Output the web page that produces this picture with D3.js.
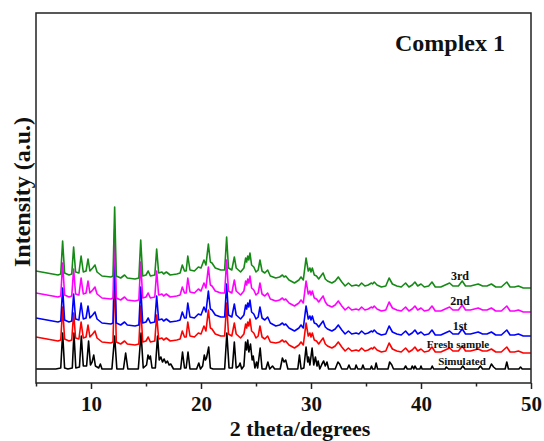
<!DOCTYPE html>
<html><head><meta charset="utf-8">
<script src="https://cdn.jsdelivr.net/npm/d3@7"></script>
<style>body{margin:0;background:#fff}svg{display:block}</style>
</head><body>
<svg id="chart" width="544" height="441"></svg>
<script>
// ---- data (2theta in degrees, intensity in arbitrary units) ----
const xTicks = [10, 20, 30, 40, 50];
const xMinorTicks = [5, 15, 25, 35, 45];
const seriesNames = ["Simulated", "Fresh sample", "1st", "2nd", "3rd"];
const seriesColors = ["#000000", "#ff0000", "#0000ff", "#ff00ff", "#168a16"];

const expTheta = [
 5.0, 6.0, 7.0, 7.25, 7.42, 7.6, 8.0, 8.25, 8.42, 8.6,
 8.9, 9.1, 9.3, 9.55, 9.73, 9.9, 10.15, 10.36, 10.55, 11.0,
 11.8, 12.0, 12.15, 12.3, 12.7, 13.05, 13.3, 14.0, 14.35, 14.52,
 14.7, 15.0, 15.2, 15.4, 15.8, 15.97, 16.15, 16.45, 16.6, 16.85,
 17.2, 17.8, 18.1, 18.3, 18.5, 18.65, 18.8, 19.0, 19.4, 19.76,
 20.0, 20.27, 20.45, 20.67, 20.85, 21.0, 21.3, 21.8, 22.15, 22.33,
 22.5, 22.8, 23.03, 23.2, 23.6, 23.9, 24.06, 24.15, 24.25, 24.35,
 24.45, 24.6, 24.8, 25.0, 25.2, 25.36, 25.55, 25.8, 26.06, 26.3,
 26.8, 27.15, 27.4, 27.55, 27.7, 28.0, 28.5, 28.9, 29.09, 29.3,
 29.55, 29.75, 29.9, 30.0, 30.12, 30.3, 30.5, 30.7, 31.1, 31.3,
 31.5, 31.9, 32.2, 32.48, 32.8, 33.1, 33.4, 33.7, 34.1, 34.35,
 34.6, 34.9, 35.2, 35.5, 35.6, 35.75, 36.0, 36.4, 36.8, 37.1,
 37.4, 37.8, 38.2, 38.6, 38.9, 39.2, 39.45, 39.7, 40.0, 40.3,
 40.7, 41.0, 41.3, 41.8, 42.2, 42.6, 42.9, 43.4, 43.75, 44.05,
 44.5, 45.2, 45.6, 46.0, 46.4, 46.8, 47.3, 47.8, 48.1, 48.5,
 48.85, 49.3, 50.0];

const third = [
 112, 110, 108, 109, 142, 110, 108, 109, 136, 111,
 110, 127, 111, 112, 124, 112, 115, 118, 111, 107,
 106, 107, 176, 107, 105, 108, 105, 104, 105, 143,
 107, 108, 112, 107, 108, 134, 110, 111, 109, 111,
 108, 109, 110, 118, 112, 112, 127, 113, 112, 116,
 115, 123, 118, 139, 121, 120, 115, 113, 113, 146,
 115, 113, 126, 115, 111, 115, 125, 121, 127, 123,
 130, 118, 116, 111, 113, 123, 112, 110, 113, 107,
 105, 106, 108, 106, 107, 103, 100, 103, 106, 103,
 125, 112, 115, 111, 115, 108, 107, 104, 110, 104,
 102, 100, 102, 106, 101, 97, 100, 97, 98, 97,
 100, 97, 98, 100, 99, 101, 98, 96, 97, 105,
 99, 97, 96, 100, 96, 98, 101, 97, 99, 96,
 97, 101, 96, 96, 98, 100, 97, 97, 102, 97,
 97, 99, 97, 97, 99, 96, 96, 101, 96, 96,
 97, 95, 95];

const second = [
 90, 88, 86, 87, 120, 88, 86, 87, 114, 89,
 88, 105, 89, 90, 102, 90, 93, 96, 89, 85,
 84, 85, 154, 85, 83, 86, 83, 82, 83, 121,
 85, 86, 90, 85, 86, 112, 88, 89, 87, 89,
 86, 87, 88, 96, 90, 90, 105, 91, 90, 94,
 92, 100, 95, 116, 98, 97, 92, 90, 90, 123,
 92, 90, 103, 92, 88, 92, 102, 98, 104, 100,
 107, 95, 93, 88, 90, 100, 89, 87, 90, 84,
 82, 83, 85, 83, 84, 80, 77, 80, 83, 80,
 102, 89, 92, 88, 92, 85, 84, 81, 87, 81,
 78, 76, 78, 82, 77, 73, 76, 73, 74, 73,
 76, 73, 74, 76, 75, 77, 74, 72, 73, 81,
 75, 73, 72, 76, 72, 74, 77, 73, 75, 72,
 73, 77, 72, 72, 74, 76, 73, 73, 78, 73,
 73, 75, 73, 73, 75, 72, 72, 77, 72, 72,
 73, 71, 71];

const first = [
 65, 63, 61, 62, 95, 63, 61, 62, 89, 64,
 63, 80, 64, 65, 77, 65, 68, 71, 64, 60,
 59, 60, 129, 60, 58, 61, 58, 57, 58, 96,
 60, 61, 65, 60, 61, 87, 63, 64, 62, 64,
 61, 62, 63, 71, 65, 65, 80, 66, 65, 69,
 68, 76, 71, 92, 74, 73, 68, 66, 66, 99,
 68, 66, 79, 68, 64, 68, 78, 74, 80, 76,
 83, 71, 69, 64, 66, 76, 65, 63, 66, 60,
 57, 58, 60, 58, 59, 55, 52, 55, 58, 55,
 77, 64, 67, 63, 67, 60, 59, 56, 62, 56,
 54, 52, 54, 58, 53, 49, 52, 49, 50, 49,
 52, 49, 50, 52, 51, 53, 50, 48, 49, 57,
 51, 49, 48, 52, 48, 50, 53, 49, 51, 48,
 49, 53, 48, 48, 50, 52, 49, 49, 54, 49,
 49, 51, 49, 49, 51, 48, 48, 53, 48, 48,
 49, 47, 47];

const fresh = [
 46, 44, 42, 43, 76, 44, 42, 43, 70, 45,
 44, 61, 45, 46, 58, 46, 49, 52, 45, 41,
 40, 41, 110, 41, 39, 42, 39, 38, 39, 77,
 41, 42, 46, 41, 42, 68, 44, 45, 43, 45,
 42, 43, 44, 52, 46, 46, 61, 47, 46, 50,
 49, 57, 52, 73, 55, 54, 49, 47, 47, 80,
 49, 47, 60, 49, 45, 49, 59, 55, 61, 57,
 64, 52, 50, 45, 47, 57, 46, 44, 47, 41,
 40, 41, 43, 41, 42, 38, 35, 38, 41, 38,
 60, 47, 50, 46, 50, 43, 42, 39, 45, 39,
 37, 35, 37, 41, 36, 32, 35, 32, 33, 32,
 35, 32, 33, 35, 34, 36, 33, 31, 32, 40,
 34, 32, 31, 35, 31, 33, 36, 32, 34, 31,
 32, 36, 31, 31, 33, 35, 32, 32, 37, 32,
 32, 34, 32, 32, 34, 31, 31, 36, 31, 31,
 32, 30, 30];

const simTheta = [
 5.0, 6.8, 7.25, 7.42, 7.6, 7.9, 8.3, 8.45, 8.62, 8.95,
 9.12, 9.3, 9.6, 9.78, 9.95, 10.1, 10.25, 10.4, 10.7, 10.85,
 11.0, 11.9, 12.15, 12.35, 12.95, 13.15, 13.35, 14.3, 14.55, 14.75,
 15.05, 15.18, 15.3, 15.4, 15.55, 15.85, 16.05, 16.2, 16.35, 16.5,
 16.65, 16.8, 16.95, 17.1, 17.25, 17.5, 18.15, 18.32, 18.5, 18.65,
 18.82, 19.0, 19.6, 19.8, 19.95, 20.15, 20.3, 20.4, 20.5, 20.7,
 20.85, 21.1, 22.15, 22.35, 22.55, 22.85, 23.03, 23.2, 23.45, 23.55,
 23.7, 23.9, 24.05, 24.15, 24.25, 24.35, 24.5, 24.65, 24.75, 24.9,
 25.05, 25.15, 25.38, 25.55, 25.9, 26.08, 26.25, 26.5, 26.7, 27.2,
 27.4, 27.55, 27.7, 27.9, 28.8, 28.95, 29.1, 29.35, 29.55, 29.7,
 29.78, 29.9, 30.1, 30.25, 30.4, 30.55, 30.65, 30.8, 31.0, 31.15,
 31.3, 31.45, 31.6, 32.2, 32.45, 32.6, 32.8, 33.3, 33.45, 33.6,
 34.0, 34.1, 34.25, 34.6, 34.72, 34.85, 35.4, 35.5, 35.6, 35.8,
 35.92, 36.05, 37.0, 37.15, 37.35, 37.5, 38.45, 38.6, 38.75, 39.1,
 39.2, 39.35, 39.45, 39.6, 39.9, 40.0, 40.1, 40.9, 41.02, 41.15,
 42.2, 42.3, 42.5, 43.6, 43.8, 44.0, 45.2, 45.4, 45.6, 46.2,
 46.4, 46.6, 46.8, 47.65, 47.8, 47.95, 48.9, 49.05, 49.2, 50.0];

const simulated = [
 14, 14, 15, 50, 15, 14, 15, 50, 15, 16,
 47, 17, 17, 42, 18, 21, 28, 17, 15, 19,
 14, 14, 47, 14, 14, 30, 14, 14, 50, 15,
 18, 28, 24, 27, 15, 15, 47, 23, 26, 21,
 24, 20, 22, 18, 19, 14, 14, 31, 15, 15,
 31, 14, 14, 20, 14, 17, 28, 23, 25, 36,
 15, 14, 14, 50, 15, 15, 41, 15, 17, 20,
 14, 17, 41, 33, 43, 31, 39, 23, 27, 15,
 21, 15, 35, 14, 14, 21, 14, 17, 14, 14,
 25, 21, 23, 14, 14, 28, 14, 15, 36, 21,
 26, 18, 35, 18, 26, 17, 22, 14, 19, 22,
 17, 21, 14, 14, 21, 19, 14, 14, 18, 14,
 14, 18, 14, 14, 18, 14, 14, 17, 14, 14,
 20, 14, 14, 21, 18, 14, 14, 17, 14, 14,
 17, 14, 17, 14, 14, 17, 14, 14, 17, 14,
 14, 16, 14, 14, 17, 14, 14, 17, 14, 14,
 19, 16, 14, 14, 21, 14, 14, 16, 14, 14];

// ---- layout ----
const svg = d3.select("#chart");
const L = 36, R = 531, T = 13, B = 383;
const x = d3.scaleLinear().domain([5, 50]).range([L, R]);
const y = d3.scaleLinear().domain([0, 370]).range([B, T]);
const serif = "'Liberation Serif','Times New Roman',serif";

const series = [
  {name: seriesNames[0], color: seriesColors[0], xs: simTheta, ys: simulated, lx: 462, ly: 365, fs: 11},
  {name: seriesNames[1], color: seriesColors[1], xs: expTheta, ys: fresh, lx: 458, ly: 348, fs: 11},
  {name: seriesNames[2], color: seriesColors[2], xs: expTheta, ys: first, lx: 460, ly: 329.5, fs: 12},
  {name: seriesNames[3], color: seriesColors[3], xs: expTheta, ys: second, lx: 460, ly: 304.5, fs: 12},
  {name: seriesNames[4], color: seriesColors[4], xs: expTheta, ys: third, lx: 460, ly: 279.5, fs: 12}
];

const line = d3.line().x(d => x(d[0])).y(d => y(d[1])).curve(d3.curveLinear);
const g = svg.append("g");
series.forEach(s => {
  g.append("path")
    .datum(s.xs.map((t, i) => [t, s.ys[i]]))
    .attr("d", line)
    .attr("fill", "none")
    .attr("stroke", s.color)
    .attr("stroke-width", 1.6)
    .attr("stroke-linejoin", "round");
});

// series labels
series.forEach(s => {
  svg.append("text").attr("x", s.lx).attr("y", s.ly)
    .attr("text-anchor", "middle")
    .attr("font-family", serif).attr("font-weight", "bold")
    .attr("font-size", s.fs).attr("fill", "#111").text(s.name);
});

// frame
svg.append("rect").attr("x", L).attr("y", T).attr("width", R - L).attr("height", B - T)
  .attr("fill", "none").attr("stroke", "#222").attr("stroke-width", 1.5);

// x axis
const ax = svg.append("g").attr("transform", `translate(0,${B})`)
  .call(d3.axisBottom(x).tickValues(xTicks).tickSize(6).tickFormat(d3.format("d")));
ax.select(".domain").remove();
ax.selectAll(".tick line").attr("stroke", "#222").attr("stroke-width", 1.5);
ax.selectAll(".tick text").attr("y", 28).attr("dy", null)
  .attr("font-family", serif).attr("font-weight", "bold").attr("font-size", 21).attr("fill", "#111");

const axm = svg.append("g").attr("transform", `translate(0,${B})`)
  .call(d3.axisBottom(x).tickValues(xMinorTicks).tickSize(3.5).tickFormat(""));
axm.select(".domain").remove();
axm.selectAll(".tick line").attr("stroke", "#222").attr("stroke-width", 1.5);

// titles
svg.append("text").attr("x", 300).attr("y", 436).attr("text-anchor", "middle")
  .attr("font-family", serif).attr("font-weight", "bold").attr("font-size", 22).attr("fill", "#111")
  .text("2 theta/degrees");
svg.append("text").attr("transform", "translate(30,192) rotate(-90)").attr("text-anchor", "middle")
  .attr("font-family", serif).attr("font-weight", "bold").attr("font-size", 24).attr("fill", "#111")
  .text("Intensity (a.u.)");
svg.append("text").attr("x", 505).attr("y", 51).attr("text-anchor", "end")
  .attr("font-family", serif).attr("font-weight", "bold").attr("font-size", 24).attr("fill", "#111")
  .text("Complex 1");
</script>
</body></html>
